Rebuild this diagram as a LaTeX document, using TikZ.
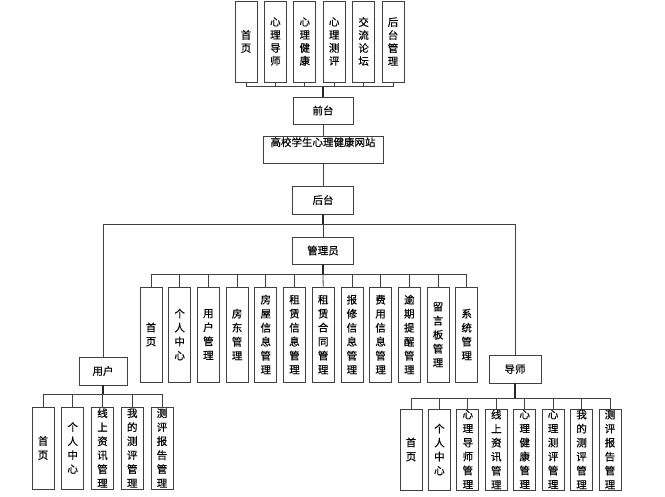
\documentclass[tikz,border=0pt]{standalone}
\usepackage{fontspec}
\setmainfont{Noto Sans CJK SC}[RawFeature={embolden=0.4}]
\usetikzlibrary{calc}

\tikzset{
  box/.style={draw=black!75, line width=0.8pt, inner sep=0pt, font=\fontsize{10.5}{14}\selectfont},
  vbox/.style={box, minimum width=22pt, align=center},
  link/.style={draw=black!75, line width=0.8pt},
  stem/.style={draw=black!85, line width=1.6pt}
}

\begin{document}
\begin{tikzpicture}[x=1pt,y=-1pt]
        \useasboundingbox (0,0) rectangle (665,497);

        % Front pages
        \node (fShouye) at (246,41.5) [vbox, minimum height=81pt, font=\fontsize{10.5}{13}\selectfont] {首\\页};
        \node (fDaoshi) at ($(fShouye) + (29.4,0)$) [vbox, minimum height=81pt, font=\fontsize{10.5}{13}\selectfont] {心\\理\\导\\师};
        \node (fJiankang) at ($(fDaoshi) + (29.4,0)$) [vbox, minimum height=81pt, font=\fontsize{10.5}{13}\selectfont] {心\\理\\健\\康};
        \node (fCeping) at ($(fJiankang) + (29.4,0)$) [vbox, minimum height=81pt, font=\fontsize{10.5}{13}\selectfont] {心\\理\\测\\评};
        \node (fLuntan) at ($(fCeping) + (29.4,0)$) [vbox, minimum height=81pt, font=\fontsize{10.5}{13}\selectfont] {交\\流\\论\\坛};
        \node (fHoutai) at ($(fLuntan) + (29.4,0)$) [vbox, minimum height=81pt, font=\fontsize{10.5}{13}\selectfont] {后\\台\\管\\理};

        \node (qiantai) at (323,110.5) [box, minimum width=60pt, minimum height=27pt] {前台};

        % Website
        \node (site) at ($(qiantai) + (0,39)$) [box, minimum width=120pt, minimum height=27pt] {};
        \node (siteText) at ($(site.north) + (0,1.5)$) [anchor=north, inner sep=0pt, font=\fontsize{10.5}{14}\selectfont] {高校学生心理健康网站};

        \node (houtai) at ($(site) + (0,50.5)$) [box, minimum width=61pt, minimum height=28pt] {后台};
        \node (admin) at ($(houtai) + (0,50.5)$) [box, minimum width=61pt, minimum height=27pt] {管理员};

        % Admin pages
        \node (aShouye) at (151,334.5) [vbox, minimum height=95pt] {首\\页};
        \node (aCenter) at ($(aShouye) + (28.7,0)$) [vbox, minimum height=95pt] {个\\人\\中\\心};
        \node (aUser) at ($(aCenter) + (28.7,0)$) [vbox, minimum height=95pt] {用\\户\\管\\理};
        \node (aLandlord) at ($(aUser) + (28.7,0)$) [vbox, minimum height=95pt] {房\\东\\管\\理};
        \node (aHouse) at ($(aLandlord) + (28.7,0)$) [vbox, minimum height=95pt] {房\\屋\\信\\息\\管\\理};
        \node (aRent) at ($(aHouse) + (28.7,0)$) [vbox, minimum height=95pt] {租\\赁\\信\\息\\管\\理};
        \node (aContract) at ($(aRent) + (28.7,0)$) [vbox, minimum height=95pt] {租\\赁\\合\\同\\管\\理};
        \node (aRepair) at ($(aContract) + (28.7,0)$) [vbox, minimum height=95pt] {报\\修\\信\\息\\管\\理};
        \node (aFee) at ($(aRepair) + (28.7,0)$) [vbox, minimum height=95pt] {费\\用\\信\\息\\管\\理};
        \node (aOverdue) at ($(aFee) + (28.7,0)$) [vbox, minimum height=95pt] {逾\\期\\提\\醒\\管\\理};
        \node (aBoard) at ($(aOverdue) + (28.7,0)$) [vbox, minimum height=95pt] {留\\言\\板\\管\\理};
        \node (aSystem) at ($(aBoard) + (28.7,0)$) [vbox, minimum height=95pt] {系\\统\\管\\理};

        % User
        \node (yonghu) at (103,371) [box, minimum width=48pt, minimum height=28pt] {用户};

        \node (uShouye) at (43,448) [vbox, minimum height=82pt] {首\\页};
        \node (uCenter) at ($(uShouye) + (29.75,0)$) [vbox, minimum height=82pt] {个\\人\\中\\心};
        \node (uNews) at ($(uCenter) + (29.75,0)$) [vbox, minimum height=82pt] {线\\上\\资\\讯\\管\\理};
        \node (uMyTest) at ($(uNews) + (29.75,0)$) [vbox, minimum height=82pt] {我\\的\\测\\评\\管\\理};
        \node (uReport) at ($(uMyTest) + (29.75,0)$) [vbox, minimum height=82pt] {测\\评\\报\\告\\管\\理};

        % Tutor
        \node (daoshi) at (515,369) [box, minimum width=52pt, minimum height=28pt] {导师};

        \node (tShouye) at (411,449.5) [vbox, minimum height=81pt] {首\\页};
        \node (tCenter) at ($(tShouye) + (28.43,0)$) [vbox, minimum height=81pt] {个\\人\\中\\心};
        \node (tTutor) at ($(tCenter) + (28.43,0)$) [vbox, minimum height=81pt] {心\\理\\导\\师\\管\\理};
        \node (tNews) at ($(tTutor) + (28.43,0)$) [vbox, minimum height=81pt] {线\\上\\资\\讯\\管\\理};
        \node (tHealth) at ($(tNews) + (28.43,0)$) [vbox, minimum height=81pt] {心\\理\\健\\康\\管\\理};
        \node (tTest) at ($(tHealth) + (28.43,0)$) [vbox, minimum height=81pt] {心\\理\\测\\评\\管\\理};
        \node (tMyTest) at ($(tTest) + (28.43,0)$) [vbox, minimum height=81pt] {我\\的\\测\\评\\管\\理};
        \node (tReport) at ($(tMyTest) + (28.43,0)$) [vbox, minimum height=81pt] {测\\评\\报\\告\\管\\理};

        % Connectors

        \coordinate (busFront) at ($(qiantai.north) + (0,-10)$);
        \draw [link] (fShouye.south) |- (busFront);
        \draw [link] (fDaoshi.south) |- (busFront);
        \draw [link] (fJiankang.south) |- (busFront);
        \draw [link] (fCeping.south) |- (busFront);
        \draw [link] (fLuntan.south) |- (busFront);
        \draw [link] (fHoutai.south) |- (busFront);
        \draw [stem] (busFront) -- (qiantai.north);

        \draw [link] (qiantai) -- (site);
        \draw [link] (site) -- (houtai);

        \coordinate (busBack) at ($(houtai.south) + (0,10)$);
        \draw [stem] (houtai.south) -- (busBack);
        \draw [link] (busBack) -- (admin.north);
        \draw [link] (yonghu.north) |- (busBack) -| (daoshi.north);

        \coordinate (busAdmin) at ($(admin.south) + (0,10)$);
        \draw [stem] (admin.south) -- (busAdmin);
        \draw [link] (aShouye.north) |- (busAdmin);
        \draw [link] (aCenter.north) |- (busAdmin);
        \draw [link] (aUser.north) |- (busAdmin);
        \draw [link] (aLandlord.north) |- (busAdmin);
        \draw [link] (aHouse.north) |- (busAdmin);
        \draw [link] (aRent.north) |- (busAdmin);
        \draw [link] (aContract.north) -- (busAdmin);
        \draw [link] (aRepair.north) |- (busAdmin);
        \draw [link] (aFee.north) |- (busAdmin);
        \draw [link] (aOverdue.north) |- (busAdmin);
        \draw [link] (aBoard.north) |- (busAdmin);
        \draw [link] (aSystem.north) |- (busAdmin);

        \coordinate (busUser) at ($(yonghu.south) + (-1,9)$);
        \draw [stem] (yonghu.south) -- ++(0,9);
        \draw [link] (uShouye.north) |- (busUser);
        \draw [link] (uCenter.north) |- (busUser);
        \draw [link] (uNews.north) |- (busUser);
        \draw [link] (uMyTest.north) |- (busUser);
        \draw [link] (uReport.north) |- (busUser);

        \coordinate (busTutor) at ($(daoshi.south) + (0,15)$);
        \draw [stem] (daoshi.south) -- (busTutor);
        \draw [link] (tShouye.north) |- (busTutor);
        \draw [link] (tCenter.north) |- (busTutor);
        \draw [link] (tTutor.north) |- (busTutor);
        \draw [link] (tNews.north) |- (busTutor);
        \draw [link] (tHealth.north) |- (busTutor);
        \draw [link] (tTest.north) |- (busTutor);
        \draw [link] (tMyTest.north) |- (busTutor);
        \draw [link] (tReport.north) |- (busTutor);

\end{tikzpicture}
\end{document}
